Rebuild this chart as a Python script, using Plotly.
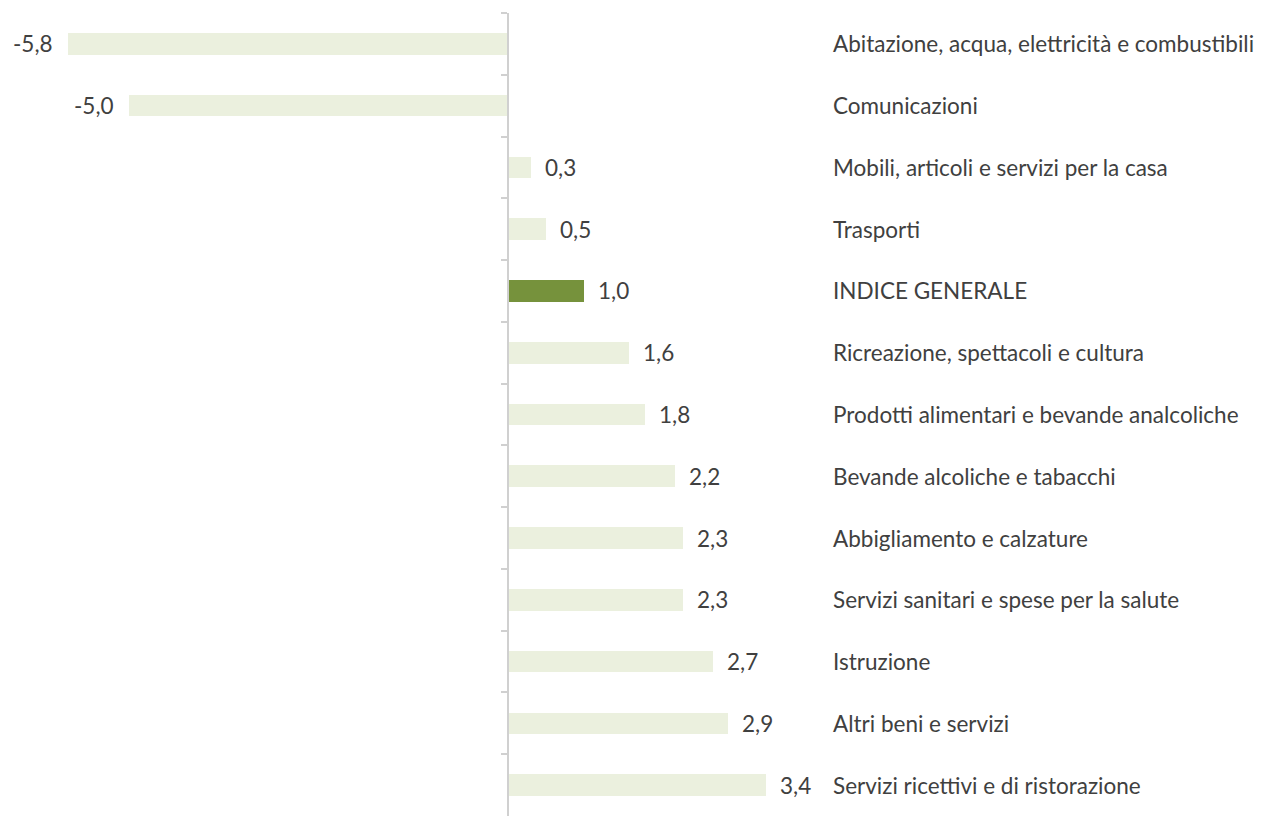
import plotly.graph_objects as go

categories = [
    "Abitazione, acqua, elettricità e combustibili",
    "Comunicazioni",
    "Mobili, articoli e servizi per la casa",
    "Trasporti",
    "INDICE GENERALE",
    "Ricreazione, spettacoli e cultura",
    "Prodotti alimentari e bevande analcoliche",
    "Bevande alcoliche e tabacchi",
    "Abbigliamento e calzature",
    "Servizi sanitari e spese per la salute",
    "Istruzione",
    "Altri beni e servizi",
    "Servizi ricettivi e di ristorazione",
]
values = [-5.8, -5.0, 0.3, 0.5, 1.0, 1.6, 1.8, 2.2, 2.3, 2.3, 2.7, 2.9, 3.4]
value_labels = ["-5,8", "-5,0", "0,3", "0,5", "1,0", "1,6", "1,8", "2,2", "2,3", "2,3", "2,7", "2,9", "3,4"]
highlight = "INDICE GENERALE"

LIGHT = "#ebf0de"
DARK = "#76923c"
TEXT = "#404040"
FONT = "Lato"
FONT_SIZE = 22.5

W, H = 1261, 816
x_min, x_max = -6.693, 9.92
label_x = 4.255  # data x where category names start

colors = [DARK if c == highlight else LIGHT for c in categories]

fig = go.Figure(
    go.Bar(
        y=categories,
        x=values,
        orientation="h",
        marker=dict(color=colors, line=dict(width=0)),
        width=0.35,
        hoverinfo="skip",
    )
)

annotations = []
for cat, v, lab in zip(categories, values, value_labels):
    annotations.append(dict(
        x=v, y=cat, xref="x", yref="y", text=lab, showarrow=False,
        xanchor="left" if v >= 0 else "right",
        xshift=12 if v >= 0 else -13,
        font=dict(family=FONT, size=FONT_SIZE, color=TEXT),
    ))
    annotations.append(dict(
        x=label_x, y=cat, xref="x", yref="y", text=cat, showarrow=False,
        xanchor="left",
        font=dict(family=FONT, size=FONT_SIZE, color=TEXT),
    ))

zero_pos = (0 - x_min) / (x_max - x_min)

fig.update_layout(
    width=W, height=H,
    margin=dict(l=0, r=0, t=13, b=0),
    paper_bgcolor="white", plot_bgcolor="white",
    showlegend=False,
    bargap=0,
    xaxis=dict(range=[x_min, x_max], visible=False, fixedrange=True),
    yaxis=dict(
        categoryorder="array", categoryarray=categories,
        autorange="reversed",
        anchor="free", position=zero_pos,
        showline=True, linecolor="#d0d0d0", linewidth=1.5,
        ticks="outside", ticklen=6, tickcolor="#d0d0d0", tickwidth=1.5,
        tickson="boundaries",
        showticklabels=False, showgrid=False, zeroline=False,
    ),
    annotations=annotations,
)

fig.write_html("out.html")
